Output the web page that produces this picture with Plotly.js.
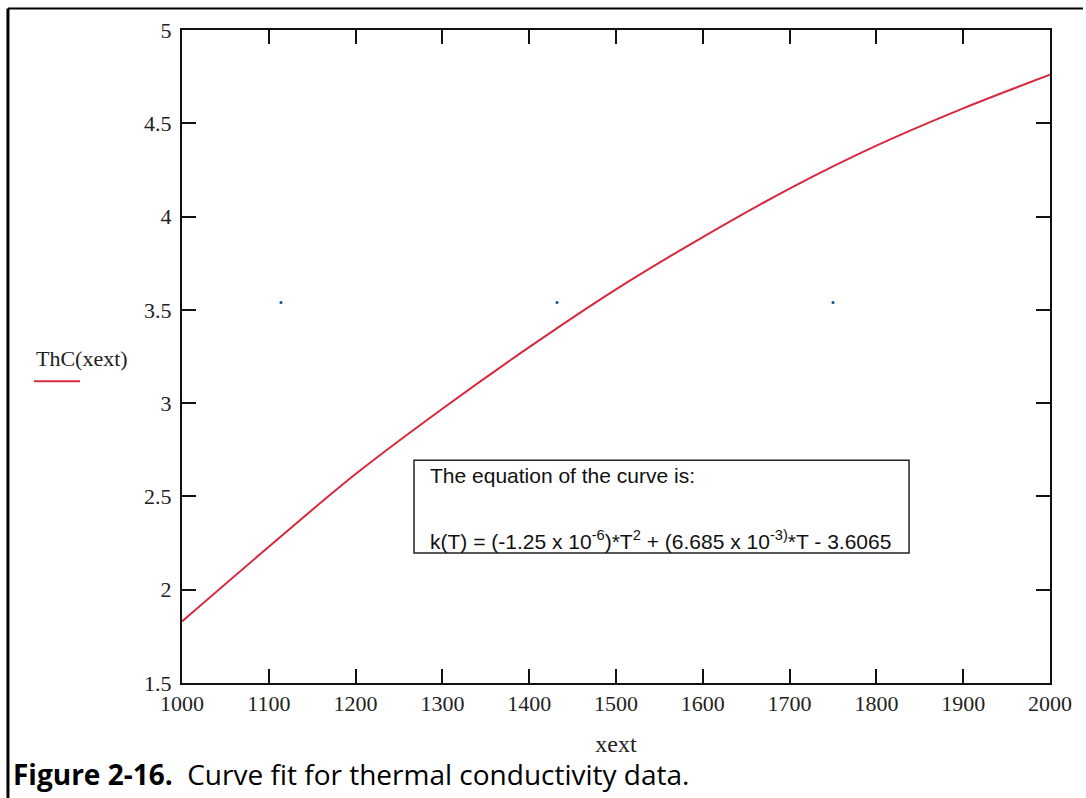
<!DOCTYPE html>
<html>
<head>
<meta charset="utf-8">
<script src="https://cdn.plot.ly/plotly-3.0.1.min.js"></script>
<style>
html,body{margin:0;padding:0;background:#fff;}
#chart{width:1086px;height:798px;}
</style>
</head>
<body>
<div id="chart"></div>
<script>
// Temperature (xext) and fitted thermal conductivity ThC(xext)
var xext = [1000, 1100, 1200, 1300, 1400, 1500, 1600, 1700, 1800, 1900, 2000];
var thc  = [1.83, 2.23, 2.62, 2.97, 3.30, 3.61, 3.89, 4.15, 4.38, 4.58, 4.76];
// small blue data dots
var dotX = [1114, 1432, 1750];
var dotY = [3.54, 3.54, 3.54];
var xTicks = [1000, 1100, 1200, 1300, 1400, 1500, 1600, 1700, 1800, 1900, 2000];
var yTicks = [1.5, 2, 2.5, 3, 3.5, 4, 4.5, 5];
var yTickText = ['1.5', '2', '2.5', '3', '3.5', '4', '4.5', '5'];

var traces = [
  {x: xext, y: thc, type: 'scatter', mode: 'lines',
   line: {color: '#d8283f', width: 2, shape: 'spline'}, showlegend: false, hoverinfo: 'none'},
  {x: dotX, y: dotY, type: 'scatter', mode: 'markers',
   marker: {color: '#1a4d80', size: 3}, showlegend: false, hoverinfo: 'none'}
];

var serif = 'Liberation Serif, Times New Roman, serif';
var sans = 'Liberation Sans, Arial, sans-serif';

var axisCommon = {
  showline: true, linecolor: '#111', linewidth: 2, mirror: 'allticks',
  ticks: 'inside', ticklen: 14, tickwidth: 2, tickcolor: '#111',
  showgrid: false, zeroline: false,
  tickfont: {family: serif, size: 22, color: '#222'}
};

var layout = {
  width: 1086, height: 798,
  margin: {l: 182, r: 36, t: 30, b: 115},
  paper_bgcolor: '#fff', plot_bgcolor: '#fff',
  xaxis: Object.assign({}, axisCommon, {
    range: [1000, 2000], tickmode: 'array', tickvals: xTicks,
    ticktext: xTicks.map(String),
    title: {text: 'xext', font: {family: serif, size: 24, color: '#222'}, standoff: 20}
  }),
  yaxis: Object.assign({}, axisCommon, {
    range: [1.5, 5], tickmode: 'array', tickvals: yTicks, ticktext: yTickText,
    ticklabelstandoff: 4
  }),
  shapes: [
    // figure border (left and top)
    {type: 'line', xref: 'paper', yref: 'paper', x0: -0.2005, x1: -0.2005, y0: 1.0329, y1: -0.2, line: {color: '#000', width: 3}},
    {type: 'line', xref: 'paper', yref: 'paper', x0: -0.2005, x1: 1.038, y0: 1.0329, y1: 1.0329, line: {color: '#000', width: 2}},
    // legend sample line
    {type: 'line', xref: 'paper', yref: 'paper', x0: -0.1705, x1: -0.1175, y0: 0.462, y1: 0.462, line: {color: '#d8283f', width: 2}},
    // equation box
    {type: 'rect', xref: 'paper', yref: 'paper', x0: 0.2673, x1: 0.8376, y0: 0.1989, y1: 0.3412, line: {color: '#222', width: 1.5}, fillcolor: 'rgba(255,255,255,0)'}
  ],
  annotations: [
    {xref: 'paper', yref: 'paper', x: -0.1705, y: 0.497, xanchor: 'left', yanchor: 'middle', showarrow: false,
     text: 'ThC(xext)', font: {family: serif, size: 22, color: '#222'}},
    {xref: 'paper', yref: 'paper', x: 0.2834, y: 0.3183, xanchor: 'left', yanchor: 'middle', showarrow: false,
     text: 'The equation of the curve is:', font: {family: sans, size: 21, color: '#111'}},
    {xref: 'paper', yref: 'paper', x: 0.2834, y: 0.2188, xanchor: 'left', yanchor: 'middle', showarrow: false,
     text: 'k(T) = (-1.25 x 10<sup>-6</sup>)*T<sup>2</sup> + (6.685 x 10<sup>-3)</sup>*T - 3.6065', font: {family: sans, size: 21, color: '#111'}},
    {xref: 'paper', yref: 'paper', x: -0.197, y: -0.14, xanchor: 'left', yanchor: 'middle', showarrow: false,
     text: '<b>Figure 2-16.</b>  Curve fit for thermal conductivity data.', font: {family: 'Open Sans, sans-serif', size: 28, color: '#000'}}
  ]
};

Plotly.newPlot('chart', traces, layout, {displayModeBar: false, staticPlot: true});
</script>
</body>
</html>
